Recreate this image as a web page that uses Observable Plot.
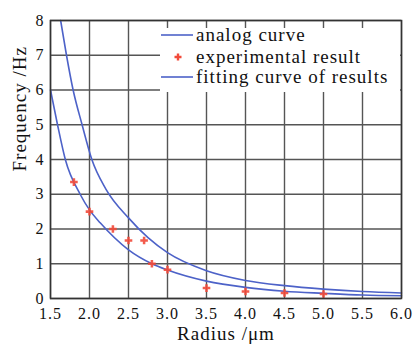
<!DOCTYPE html>
<html>
<head>
<meta charset="utf-8">
<script src="https://cdn.jsdelivr.net/npm/d3@7"></script>
<script src="https://cdn.jsdelivr.net/npm/@observablehq/plot@0.6"></script>
<style>
  body { margin: 0; background: #fff; }
  #wrap { position: relative; width: 415px; height: 344px; font-family: "Liberation Serif", "DejaVu Serif", serif; }
  #legend { position: absolute; left: 160px; top: 28px; width: 240px; height: 64px; background: #fff; }
  .item { position: absolute; left: 0; height: 20px; display: flex; align-items: center; font-size: 19px; letter-spacing: 1px; color: #111; white-space: nowrap; }
  .item svg { width: 36px; height: 20px; flex: none; }
</style>
</head>
<body>
<div id="wrap"></div>
<script>
// Analog curve
const analogR = [1.63, 1.705, 1.79, 1.905, 2.03, 2.21, 2.5, 2.75, 3.0, 3.5, 4.0, 4.5, 5.0, 5.5, 6.0];
const analogF = [8.0, 7.0, 6.0, 5.0, 4.0, 3.15, 2.32, 1.75, 1.32, 0.8, 0.52, 0.37, 0.27, 0.2, 0.16];
// Fitting curve of results
const fitR = [1.5, 1.59, 1.69, 1.88, 2.0, 2.14, 2.5, 2.8, 3.0, 3.5, 4.0, 4.5, 5.0, 5.5, 6.0];
const fitF = [6.0, 5.0, 4.0, 3.0, 2.55, 2.17, 1.4, 1.0, 0.82, 0.5, 0.32, 0.21, 0.15, 0.1, 0.08];
// Experimental results
const expR = [1.8, 2.0, 2.3, 2.5, 2.7, 2.8, 3.0, 3.5, 4.0, 4.5, 5.0];
const expF = [3.35, 2.5, 2.0, 1.67, 1.67, 1.0, 0.83, 0.3, 0.2, 0.16, 0.13];
// Ticks and labels
const xTicks = [1.5, 2.0, 2.5, 3.0, 3.5, 4.0, 4.5, 5.0, 5.5, 6.0];
const yTicks = [0, 1, 2, 3, 4, 5, 6, 7, 8];
const xLabel = "Radius /μm";
const yLabel = "Frequency /Hz";
const legendLabels = ["analog curve", "experimental result", "fitting curve of results"];

const curveColor = "#4d62c8";
const pointColor = "#f24a3a";

const analog = analogR.map((r, i) => ({r, f: analogF[i]}));
const fit = fitR.map((r, i) => ({r, f: fitF[i]}));
const exp = expR.map((r, i) => ({r, f: expF[i]}));

const chart = Plot.plot({
  width: 415,
  height: 344,
  marginTop: 20,
  marginLeft: 50,
  marginRight: 14,
  marginBottom: 46,
  style: {fontFamily: "'Liberation Serif', 'DejaVu Serif', serif", fontSize: "16px", letterSpacing: "1px", color: "#111", background: "#fff"},
  x: {domain: [1.5, 6.0], ticks: xTicks},
  y: {domain: [0, 8], ticks: yTicks},
  marks: [
    Plot.gridX(xTicks, {stroke: "#555", strokeOpacity: 1, strokeWidth: 1.4}),
    Plot.gridY(yTicks, {stroke: "#555", strokeOpacity: 1, strokeWidth: 1.4}),
    Plot.axisX(xTicks, {tickSize: 0, tickPadding: 9, tickFormat: d => d.toFixed(1), label: null, fontSize: 16}),
    Plot.axisY(yTicks, {tickSize: 0, tickPadding: 6, tickFormat: d => String(d), label: null, fontSize: 16}),
    Plot.text([xLabel], {frameAnchor: "bottom", lineAnchor: "middle", dy: 35, fontSize: 19, fill: "#111"}),
    Plot.text([yLabel], {frameAnchor: "left", lineAnchor: "middle", rotate: -90, dx: -31, dy: 12, fontSize: 19, fill: "#111"}),
    Plot.line(analog, {x: "r", y: "f", stroke: curveColor, strokeWidth: 1.6, curve: "monotone-x"}),
    Plot.line(fit, {x: "r", y: "f", stroke: curveColor, strokeWidth: 1.6, curve: "monotone-x"}),
    Plot.dot(exp, {x: "r", y: "f", symbol: "cross", r: 3.2, fill: pointColor, stroke: "none", fillOpacity: 0.9}),
    Plot.frame({stroke: "#333", strokeWidth: 1.5})
  ]
});

const wrap = document.getElementById("wrap");
wrap.appendChild(chart);

const legend = document.createElement("div");
legend.id = "legend";
const tops = [-3, 19, 39];
legendLabels.forEach((lab, i) => {
  const it = document.createElement("div");
  it.className = "item";
  it.style.top = tops[i] + "px";
  const icon = i === 1
    ? `<svg viewBox="0 0 36 20"><path d="M18,10m-3.5,-1.2h2.3v-2.3h2.4v2.3h2.3v2.4h-2.3v2.3h-2.4v-2.3h-2.3z" fill="${pointColor}"/></svg>`
    : `<svg viewBox="0 0 36 20"><line x1="1" x2="33" y1="10" y2="10" stroke="${curveColor}" stroke-width="1.6"/></svg>`;
  it.innerHTML = icon + `<span>${lab}</span>`;
  legend.appendChild(it);
});
wrap.appendChild(legend);
</script>
</body>
</html>
